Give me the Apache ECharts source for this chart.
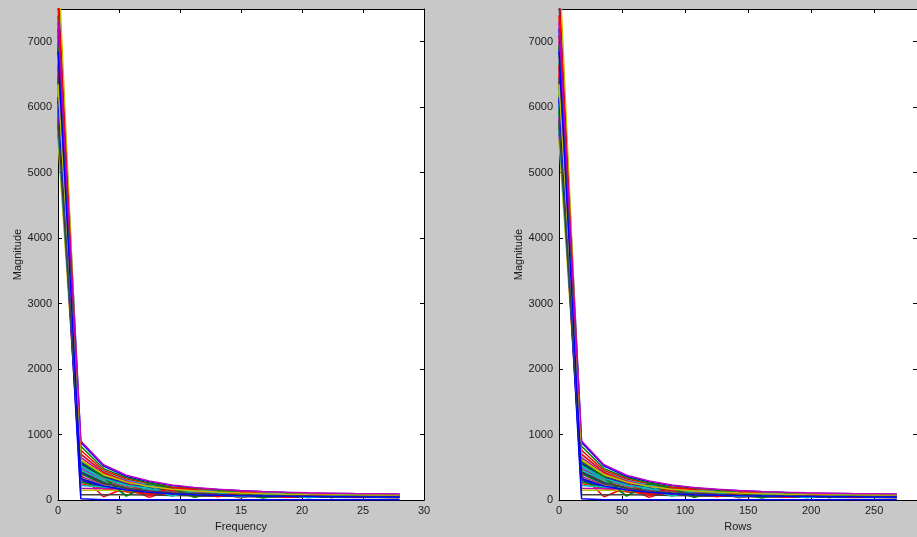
<!DOCTYPE html>
<html>
<head>
<meta charset="utf-8">
<script src="https://cdn.jsdelivr.net/npm/echarts@6/dist/echarts.min.js"></script>
<style>
html, body { margin: 0; padding: 0; background: #c8c8c8; overflow: hidden; }
#chart { width: 917px; height: 537px; }
</style>
</head>
<body>
<div id="chart"></div>
<script>
// x positions of the 16 spectrum bins, in both units
const freqs = [0, 1.87, 3.73, 5.6, 7.47, 9.33, 11.2, 13.07, 14.93, 16.8, 18.67, 20.53, 22.4, 24.27, 26.13, 28];
const rows = [0, 17.9, 35.7, 53.6, 71.5, 89.3, 107.2, 125.1, 142.9, 160.8, 178.7, 196.5, 214.4, 232.3, 250.1, 268];

// magnitude per column (one line each)
const col01 = [7800, 880, 520, 360, 280, 220, 180, 160, 140, 125, 115, 105, 100, 95, 90, 88];
const col02 = [6200, 820, 480, 340, 260, 200, 170, 150, 130, 120, 110, 100, 95, 90, 85, 80];
const col03 = [7100, 760, 450, 320, 240, 190, 160, 140, 125, 110, 100, 95, 90, 85, 80, 78];
const col04 = [5900, 700, 430, 300, 230, 180, 150, 135, 120, 108, 98, 92, 86, 82, 78, 75];
const col05 = [6600, 650, 400, 290, 210, 170, 145, 128, 115, 100, 95, 88, 84, 80, 76, 72];
const col06 = [8300, 620, 380, 270, 200, 160, 140, 120, 110, 98, 90, 85, 80, 76, 72, 70];
const col07 = [6000, 580, 360, 260, 190, 150, 130, 115, 100, 92, 86, 80, 76, 72, 70, 68];
const col08 = [6900, 560, 340, 240, 185, 145, 125, 110, 98, 88, 82, 78, 74, 70, 68, 66];
const col09 = [5700, 540, 330, 230, 170, 140, 118, 105, 95, 85, 80, 75, 72, 68, 66, 64];
const col10 = [7400, 520, 310, 220, 165, 130, 112, 100, 90, 82, 76, 72, 68, 65, 62, 60];
const col11 = [6300, 500, 300, 210, 155, 125, 108, 95, 86, 78, 72, 68, 65, 62, 60, 58];
const col12 = [5600, 480, 290, 200, 150, 120, 104, 92, 82, 75, 70, 66, 62, 60, 58, 56];
const col13 = [6800, 460, 280, 190, 140, 115, 100, 88, 80, 72, 68, 64, 60, 58, 56, 55];
const col14 = [7600, 440, 270, 185, 135, 110, 96, 85, 76, 70, 66, 62, 58, 56, 54, 52];
const col15 = [6100, 420, 250, 175, 130, 105, 92, 82, 74, 68, 64, 60, 56, 54, 52, 50];
const col16 = [5800, 400, 240, 170, 125, 100, 88, 78, 72, 66, 62, 58, 55, 52, 50, 48];
const col17 = [6500, 380, 50, 190, 40, 150, 45, 110, 35, 90, 50, 80, 40, 70, 45, 60];
const col18 = [6700, 450, 300, 65, 220, 60, 150, 120, 50, 100, 90, 40, 80, 75, 50, 60];
const col19 = [7000, 360, 230, 160, 120, 95, 84, 75, 68, 62, 58, 54, 52, 50, 48, 46];
const col20 = [5500, 340, 220, 150, 115, 90, 80, 72, 65, 60, 56, 52, 50, 48, 46, 45];
const col21 = [6400, 320, 200, 145, 110, 88, 76, 70, 62, 58, 54, 50, 48, 46, 45, 44];
const col22 = [7200, 300, 190, 140, 105, 85, 74, 66, 60, 55, 52, 50, 47, 45, 44, 43];
const col23 = [5950, 280, 180, 130, 100, 82, 70, 64, 58, 54, 50, 48, 46, 44, 42, 42];
const col24 = [6650, 250, 170, 125, 95, 80, 68, 62, 56, 52, 48, 46, 44, 42, 41, 40];
const col25 = [6050, 220, 200, 180, 150, 120, 100, 90, 80, 70, 65, 60, 58, 55, 52, 50];
const col26 = [5850, 180, 170, 160, 140, 120, 105, 90, 80, 72, 66, 60, 58, 55, 52, 50];
const col27 = [6250, 150, 150, 145, 130, 110, 95, 85, 78, 70, 64, 60, 56, 54, 52, 50];
const col28 = [6450, 80, 80, 80, 78, 70, 65, 60, 55, 50, 48, 45, 42, 40, 38, 36];
const col29 = [6150, 20, 5, 5, 5, 5, 5, 5, 5, 5, 5, 5, 5, 5, 5, 5];
const col30 = [6950, 600, 350, 60, 250, 180, 40, 140, 110, 30, 90, 80, 40, 70, 60, 55];
const col31 = [7700, 700, 420, 280, 70, 190, 160, 50, 120, 105, 40, 85, 80, 45, 70, 65];
const col32 = [5650, 520, 330, 230, 175, 60, 135, 115, 45, 90, 80, 35, 70, 60, 45, 55];
const col33 = [7300, 900, 540, 380, 290, 230, 190, 165, 145, 130, 118, 110, 104, 98, 95, 92];
const col34 = [6350, 610, 390, 275, 205, 165, 138, 122, 108, 96, 88, 82, 78, 74, 72, 70];
const col35 = [5750, 430, 265, 180, 138, 112, 98, 86, 78, 71, 66, 62, 58, 56, 54, 53];
const col36 = [6850, 330, 215, 152, 118, 94, 82, 73, 66, 60, 56, 53, 50, 48, 47, 46];

const columns = [col01, col02, col03, col04, col05, col06, col07, col08, col09, col10, col11,
  col12, col13, col14, col15, col16, col17, col18, col19, col20, col21, col22, col23, col24,
  col25, col26, col27, col28, col29, col30, col31, col32, col33, col34, col35, col36];

const matlabColors = ['#0000ff', '#008000', '#ff0000', '#00bfbf', '#bf00bf', '#bfbf00', '#404040'];

const chart = echarts.init(document.getElementById('chart'));

const labelFont = { fontFamily: 'Liberation Sans', fontSize: 11, color: '#1a1a1a' };
const tick = { show: true, inside: true, length: 4, lineStyle: { color: '#000' } };
const line = { show: true, onZero: false, lineStyle: { color: '#000', width: 1 } };
const plain = v => String(v);

function bottomAxis(grid, max, interval, name, showMax) {
  return {
    type: 'value', gridIndex: grid, position: 'bottom', min: 0, max: max, interval: interval,
    name: name, nameLocation: 'middle', nameGap: 21, nameTextStyle: labelFont,
    axisLine: line, axisTick: tick, splitLine: { show: false },
    axisLabel: Object.assign({ margin: 5, showMaxLabel: showMax, formatter: plain }, labelFont)
  }
}
function topAxis(grid, max, interval) {
  return {
    type: 'value', gridIndex: grid, position: 'top', min: 0, max: max, interval: interval,
    axisLine: line, axisTick: tick, splitLine: { show: false }, axisLabel: { show: false }
  }
}
function leftAxis(grid) {
  return {
    type: 'value', gridIndex: grid, position: 'left', min: 0, max: 7500, interval: 1000,
    name: 'Magnitude', nameLocation: 'middle', nameGap: 33, nameTextStyle: labelFont,
    axisLine: line, axisTick: tick, splitLine: { show: false },
    axisLabel: Object.assign({ margin: 6, showMaxLabel: false, formatter: plain }, labelFont)
  }
}
function rightAxis(grid) {
  return {
    type: 'value', gridIndex: grid, position: 'right', min: 0, max: 7500, interval: 1000,
    axisLine: line, axisTick: tick, splitLine: { show: false }, axisLabel: { show: false }
  }
}

const series = [];
[freqs, rows].forEach((xs, g) => {
  columns.forEach((col, i) => {
    series.push({
      type: 'line',
      xAxisIndex: g * 2,
      yAxisIndex: g * 2,
      data: col.map((v, k) => [xs[k], v]),
      showSymbol: false,
      clip: true,
      lineStyle: { width: 1.5, color: matlabColors[i % matlabColors.length] }
    });
  });
});

const option = {
  backgroundColor: '#c8c8c8',
  animation: false,
  grid: [
    { left: 58, top: 9, width: 366, height: 494, show: true, backgroundColor: '#fff', borderWidth: 0 },
    { left: 559, top: 9, width: 360, height: 494, show: true, backgroundColor: '#fff', borderWidth: 0 }
  ],
  xAxis: [
    bottomAxis(0, 30, 5, 'Frequency', true),
    topAxis(0, 30, 5),
    bottomAxis(1, 284, 50, 'Rows', false),
    topAxis(1, 284, 50)
  ],
  yAxis: [leftAxis(0), rightAxis(0), leftAxis(1), rightAxis(1)],
  series: series
};

chart.setOption(option);
</script>
</body>
</html>
